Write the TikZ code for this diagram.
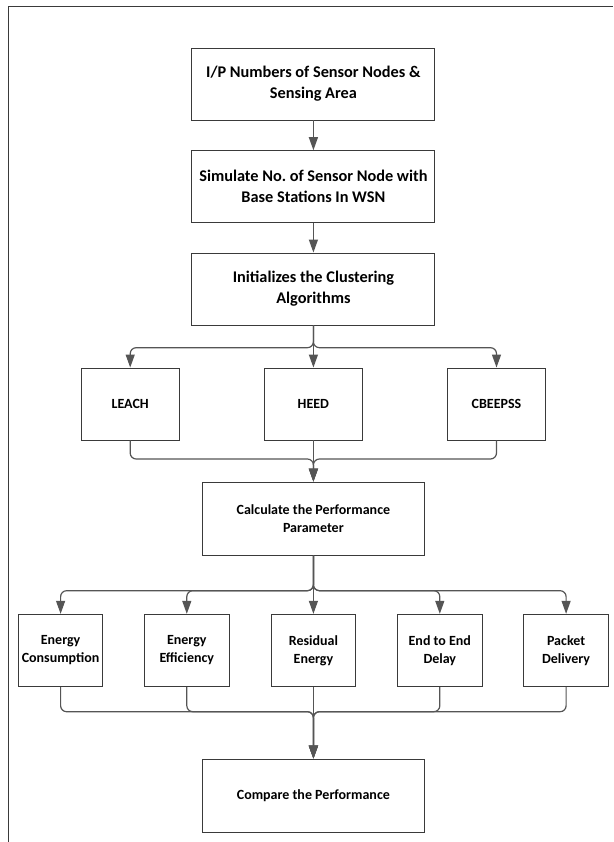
\documentclass[tikz,border=0pt]{standalone}
\usepackage{fontspec}
\setmainfont{Carlito}
\usetikzlibrary{arrows.meta}
\definecolor{linegray}{HTML}{555555}
\definecolor{boxgray}{HTML}{3A3A3A}
\tikzset{
  box/.style={draw=boxgray, line width=0.9pt, inner sep=0pt, align=center},
  bigbox/.style={box, minimum width=243pt, minimum height=72pt,
    font=\fontsize{16.3}{21}\selectfont\bfseries},
  algobox/.style={box, minimum width=98pt, minimum height=72pt,
    font=\fontsize{14}{18}\selectfont\bfseries},
  widebox/.style={box, minimum width=222pt, minimum height=73pt,
    font=\fontsize{14}{18}\selectfont\bfseries},
  parambox/.style={box, minimum width=84.4pt, minimum height=72.4pt,
    font=\fontsize{14}{18}\selectfont\bfseries},
  arr/.style={draw=linegray, line width=1.2pt, rounded corners=6pt,
    -{Triangle[length=13pt,width=9pt]}}
}
\begin{document}
\begin{tikzpicture}[x=1pt,y=-1pt]
  \useasboundingbox (0,0) rectangle (613,842);
  \draw[boxgray, line width=0.9pt] (8,842) -- (8,6) -- (613,6);

  \node[bigbox] (ip) at (313.4,84) {I/P Numbers of Sensor Nodes \&\\Sensing Area};
  \node[bigbox] (sim) at (313.4,186.7) {Simulate No.\ of Sensor Node with\\Base Stations In WSN};
  \node[bigbox] (init) at (313.4,289) {Initializes the Clustering\\Algorithms};

  \node[algobox] (leach) at (130.2,404) {LEACH};
  \node[algobox] (heed) at (313.4,404) {HEED};
  \node[algobox] (cbeepss) at (496.5,404) {CBEEPSS};

  \node[widebox] (calc) at (313.4,518.6) {Calculate the Performance\\Parameter};

  \node[parambox] (cons) at (60.6,650.5) {Energy\\Consumption};
  \node[parambox] (eff) at (186.8,650.5) {Energy\\Efficiency};
  \node[parambox] (res) at (313.4,650.5) {Residual\\Energy};
  \node[parambox] (delay) at (439.8,650.5) {End to End\\Delay};
  \node[parambox] (pdr) at (566.1,650.5) {Packet\\Delivery};

  \node[widebox] (cmp) at (313.4,795.5) {Compare the Performance};

  \coordinate (split1) at (313.4,347.7);
  \coordinate (merge1) at (313.4,459);
  \coordinate (split2) at (313.4,590.7);
  \coordinate (merge2) at (313.4,711.7);

  \begin{scope}[arr]
    \draw (ip) -- (sim);
    \draw (sim) -- (init);
    \draw (init) -- (heed);
    \draw (init) -- (split1) -| (leach);
    \draw (init) -- (split1) -| (cbeepss);
    \draw (heed) -- (calc);
    \draw (leach) |- (merge1) -- (calc);
    \draw (cbeepss) |- (merge1) -- (calc);
    \draw (calc) -- (res);
    \draw (calc) -- (split2) -| (cons);
    \draw (calc) -- (split2) -| (eff);
    \draw (calc) -- (split2) -| (delay);
    \draw (calc) -- (split2) -| (pdr);
    \draw (res) -- (cmp);
    \draw (cons) |- (merge2) -- (cmp);
    \draw (eff) |- (merge2) -- (cmp);
    \draw (delay) |- (merge2) -- (cmp);
    \draw (pdr) |- (merge2) -- (cmp);
  \end{scope}
\end{tikzpicture}
\end{document}
